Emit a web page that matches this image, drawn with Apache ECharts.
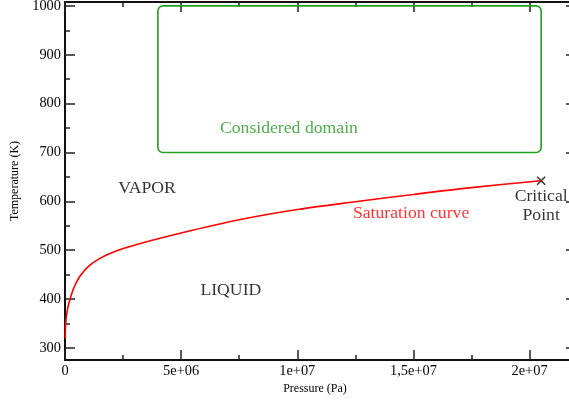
<!DOCTYPE html>
<html>
<head>
<meta charset="utf-8">
<script src="https://cdn.jsdelivr.net/npm/echarts@6/dist/echarts.min.js"></script>
<style>html,body{margin:0;padding:0;background:#fff;}#c{width:569px;height:401px;}</style>
</head>
<body>
<div id="c"></div>
<script>
// ---- data ----
var satPressure = [1e4, 3e4, 1e5, 2.2e5, 4e5, 6.5e5, 1.0e6, 1.5e6, 2.2e6, 3.2e6, 5e6, 7.5e6, 1e7, 1.25e7, 1.5e7, 1.75e7, 2.05e7];
var satTemperature = [320, 350, 377, 400, 425, 447, 466, 483, 498, 513, 535, 562, 583, 599, 614, 628, 642];
var criticalPoint = [2.05e7, 642];
var domainP = [4e6, 2.05e7];
var domainT = [700, 1000];
var xTickValues = [0, 5e6, 1e7, 1.5e7, 2e7];
var xTickLabels = ['0', '5e+06', '1e+07', '1,5e+07', '2e+07'];
var yTickValues = [300, 400, 500, 600, 700, 800, 900, 1000];
var yTickLabels = ['300', '400', '500', '600', '700', '800', '900', '1000'];
var yMinorValues = [350, 450, 550, 650, 750, 850, 950];
var annotP = [3.53e6, 9.64e6, 1.49e7, 7.14e6, 2.05e7];
var annotT = [627, 750, 576, 418, 590];
var annotText = ['VAPOR', 'Considered domain', 'Saturation curve', 'LIQUID', 'Critical\nPoint'];
var annotColor = ['#000', '#1f9a1f', '#ff0000', '#000', '#000'];

var FONT = 'Liberation Serif';
var AX = '#111';
var TK = '#222';

var satData = satPressure.map(function (p, i) { return [p, satTemperature[i]]; });
var annotData = annotP.map(function (p, i) {
  return { value: [p, annotT[i]], label: { formatter: annotText[i], color: annotColor[i] } };
});

var chart = echarts.init(document.getElementById('c'), null, { renderer: 'canvas' });

function yAx(pos, values, len, labels, showLine) {
  return {
    type: 'value', position: pos, min: 275, max: 1008,
    axisLine: { show: showLine, onZero: false, lineStyle: { color: AX, width: 2 } },
    axisTick: { show: true, inside: true, length: len, customValues: values, lineStyle: { color: TK, width: 1.5 } },
    axisLabel: labels ? {
      show: true, customValues: values, margin: 4,
      fontFamily: FONT, fontSize: 14.4, color: '#000',
      formatter: function (v) { var i = yTickValues.indexOf(v); return i >= 0 ? yTickLabels[i] : ''; }
    } : { show: false },
    splitLine: { show: false }
  };
}

var yAxes = [yAx('left', yTickValues, 10, true, true), yAx('right', yTickValues, 10, false, true),
             yAx('left', yMinorValues, 5, false, false), yAx('right', yMinorValues, 5, false, false)];
yAxes[0].name = 'Temperature (K)';
yAxes[0].nameLocation = 'middle';
yAxes[0].nameGap = 39;
yAxes[0].nameTextStyle = { fontFamily: FONT, fontSize: 12, color: '#000' };

function xAx(pos, labels) {
  return {
    type: 'value', position: pos, min: 0, max: 2.2e7, interval: 5e6,
    axisLine: { show: true, onZero: false, lineStyle: { color: AX, width: 2 } },
    axisTick: { show: true, inside: true, length: 10, lineStyle: { color: TK, width: 1.5 } },
    minorTick: { show: true, splitNumber: 2, length: 5, lineStyle: { color: TK, width: 1.5 } },
    axisLabel: labels ? {
      show: true, margin: 4, fontFamily: FONT, fontSize: 14.4, color: '#000',
      formatter: function (v) { var i = xTickValues.indexOf(v); return i >= 0 ? xTickLabels[i] : ''; }
    } : { show: false },
    splitLine: { show: false }
  };
}
var xAxes = [xAx('bottom', true), xAx('top', false)];
xAxes[0].name = 'Pressure (Pa)';
xAxes[0].nameLocation = 'middle';
xAxes[0].nameGap = 17;
xAxes[0].nameTextStyle = { fontFamily: FONT, fontSize: 12, color: '#000', padding: [0, 11, 0, 0] };

chart.setOption({
  animation: false,
  backgroundColor: '#fff',
  grid: { left: 65, top: 2, width: 511, height: 358, containLabel: false, outerBoundsMode: 'none' },
  xAxis: xAxes,
  yAxis: yAxes,
  series: [
    {
      type: 'line', name: 'Saturation curve', data: satData, smooth: 0.3, showSymbol: false,
      xAxisIndex: 0, yAxisIndex: 0,
      lineStyle: { color: '#ff0000', width: 1.6 }
    },
    {
      type: 'scatter', data: [criticalPoint], xAxisIndex: 0, yAxisIndex: 0,
      symbol: 'path://M0,0L10,10M10,0L0,10', symbolSize: 8,
      itemStyle: { color: 'none', borderColor: '#000', borderWidth: 1.5 }
    },
    {
      type: 'custom', xAxisIndex: 0, yAxisIndex: 0, data: [[domainP[0], domainT[1], domainP[1], domainT[0]]],
      renderItem: function (params, api) {
        var a = api.coord([api.value(0), api.value(1)]);
        var b = api.coord([api.value(2), api.value(3)]);
        return {
          type: 'rect',
          shape: { x: a[0], y: a[1], width: b[0] - a[0], height: b[1] - a[1], r: 5 },
          style: { fill: null, stroke: '#22a022', lineWidth: 1.6 }
        };
      }
    },
    {
      type: 'scatter', data: annotData, xAxisIndex: 0, yAxisIndex: 0, symbolSize: 0,
      label: { show: true, position: 'inside', fontFamily: FONT, fontSize: 17.7, lineHeight: 19, align: 'center', verticalAlign: 'middle' }
    }
  ]
});
</script>
</body>
</html>
